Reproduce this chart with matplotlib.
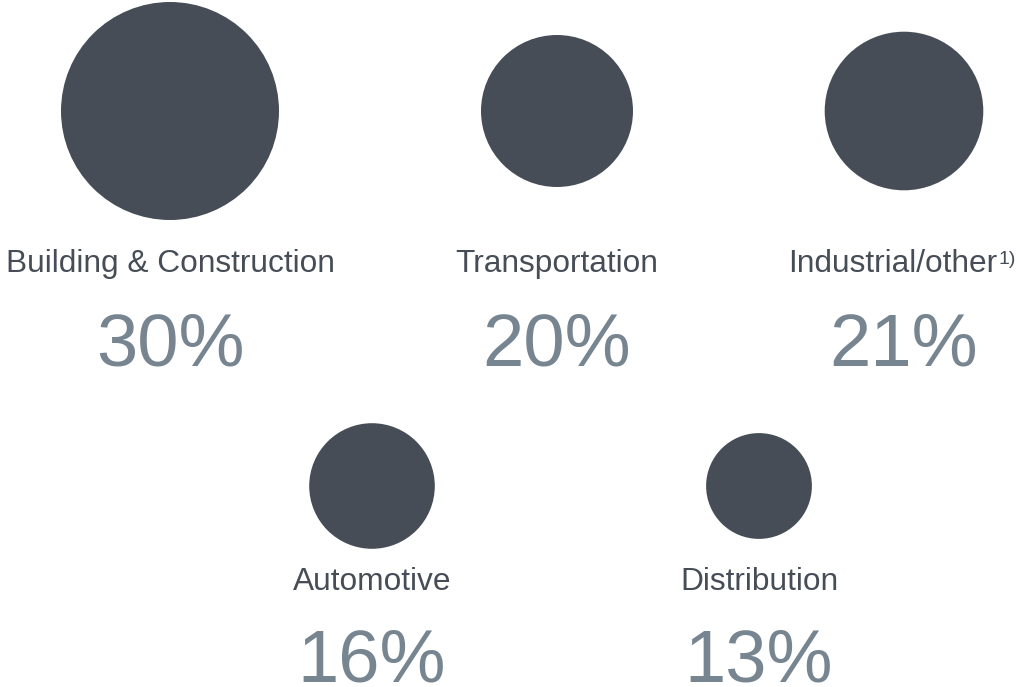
import matplotlib
matplotlib.use("Agg")
import matplotlib.pyplot as plt
from matplotlib.patches import Circle

# data
segments = ["Building & Construction", "Transportation", "Industrial/other",
            "Automotive", "Distribution"]
shares = [30, 20, 21, 16, 13]
footnotes = ["", "", "1)", "", ""]

# layout (pixel coords of the 1020x687 canvas)
cx = [170, 557, 904, 372, 759]
cy = [111, 111, 111, 486, 486]
label_y = [272, 272, 272, 590, 590]   # text baselines
pct_y = [366, 366, 366, 682, 682]

circle_col = "#464d56"
label_col = "#464d56"
pct_col = "#778591"
font = "Liberation Sans"


def radius(v):
    return 10 + 3.3 * v


fig = plt.figure(figsize=(10.2, 6.87), dpi=100)
ax = fig.add_axes([0, 0, 1, 1])
ax.set_xlim(0, 1020)
ax.set_ylim(687, 0)
ax.set_aspect("equal")
ax.axis("off")

for i, (name, v, fn) in enumerate(zip(segments, shares, footnotes)):
    x, y = cx[i], cy[i]
    ax.add_patch(Circle((x, y), radius(v), color=circle_col, lw=0))
    t = ax.text(x - (11 if fn else 0), label_y[i], name, ha="center", va="baseline",
                fontsize=22.8, color=label_col, family=font)
    if fn:
        fig.canvas.draw()
        bb = t.get_window_extent().transformed(ax.transData.inverted())
        ax.text(bb.x1 + 1, bb.y1 + 2, fn, ha="left", va="top",
                fontsize=14, color=label_col, family=font)
    ax.text(x, pct_y[i], f"{v}%", ha="center", va="baseline",
            fontsize=53.5, color=pct_col, family=font)

fig.savefig("out.png", dpi=100, facecolor="white")
